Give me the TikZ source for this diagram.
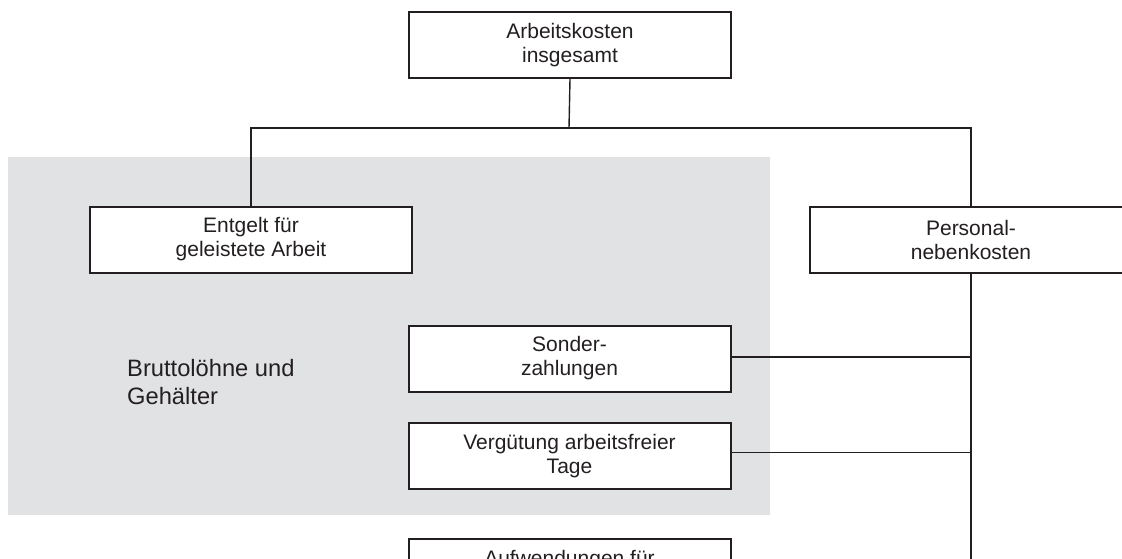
\documentclass[tikz,border=0pt]{standalone}
\usepackage{fontspec}
\setmainfont{Liberation Sans}
\definecolor{panel}{HTML}{E1E2E4}
\definecolor{ink}{HTML}{231F20}
\tikzset{
  box/.style={draw=ink, line width=2pt, fill=white, minimum width=322pt, minimum height=66pt,
    inner sep=0pt, align=center, text=ink, font=\fontsize{21}{24}\selectfont},
  conn/.style={draw=ink, line width=1.4pt},
  label/.style={text=ink, align=left, inner sep=0pt, font=\fontsize{23.7}{28}\selectfont}
}
\begin{document}
\begin{tikzpicture}[x=1pt,y=-1pt]
\useasboundingbox (0,0) rectangle (1122,559);
\clip (0,0) rectangle (1122,559);
\fill[panel] (8,157) rectangle (770,515);
\node[label, anchor=west] (brutto) at (127,382) {Bruttolöhne und\\Gehälter};
\node[box] (top) at (570,45) {Arbeitskosten\\insgesamt};
\node[box] (entgelt) at (251,239.5) {Entgelt für\\geleistete Arbeit};
\node[box] (pers) at (971,240) {Personal-\\nebenkosten};
\node[box] (sonder) at (569.5,358.5) {Sonder-\\zahlungen};
\node[box] (verg) at (569.5,456) {Vergütung arbeitsfreier\\Tage};
\node[box] (aufw) at (569.5,572) {Aufwendungen für\\Aus- und Weiterbildung};
\coordinate (hub) at (569,128);
\coordinate (bot) at (971,600);
\draw[conn] (top.south) -- (hub);
\draw[conn] (entgelt.north) |- (hub) -| (pers.north);
\draw[conn] (pers.south) -- (bot);
\draw[conn] ([yshift=1.5pt]sonder.east) -- ([yshift=1.5pt]sonder.east -| pers.south);
\draw[conn] ([yshift=3.5pt]verg.east) -- ([yshift=3.5pt]verg.east -| pers.south);
\end{tikzpicture}
\end{document}
